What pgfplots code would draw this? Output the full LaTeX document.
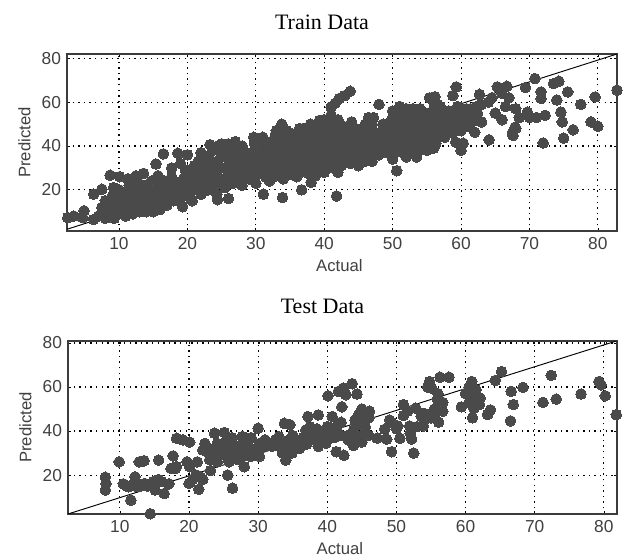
\documentclass[border=0pt]{standalone}
\usepackage{pgfplots}
\pgfplotsset{compat=1.18}
\usepackage{fontspec}
\setmainfont{Liberation Sans}
\newfontfamily\titlefont{Liberation Serif}
\definecolor{dot}{HTML}{4A4A4A}
\definecolor{frame}{HTML}{3C3C3C}
\pgfplotsset{
  panel/.style={
    scale only axis, clip mode=individual,
    axis line style={frame,line width=1.1pt},
    xtick={10,20,...,80}, ytick={20,40,60,80},
    tick style={black,line width=.5pt}, tick align=inside, major tick length=2.5pt,
    tick pos=both, ticklabel pos=left,
    xmajorgrids, ymajorgrids,
    major grid style={black,line width=.8pt,dash pattern=on 1pt off 3.2pt},
    /pgf/number format/assume math mode=true,
    tick label style={font=\fontsize{13}{15}\selectfont,text=black!75},
    label style={font=\fontsize{12.5}{14}\selectfont,text=black!75},
    xticklabel style={yshift=-1pt},
    yticklabel style={xshift=-1pt},
    xlabel={Actual}, ylabel={Predicted},
    ylabel style={yshift=1.5pt},
    title style={font=\titlefont\fontsize{16.5}{18}\selectfont,text=black},
  },
  dots/.style={only marks, mark=*, mark size=4pt, mark options={fill=dot,draw=dot,line width=0pt}},
}
\begin{document}
\begin{tikzpicture}[x=1pt,y=1pt]
\useasboundingbox (0,0) rectangle (468.75,417.75);
\begin{axis}[panel, at={(50.25pt,244.5pt)}, width=412.5pt, height=132.75pt,
  xmin=2.4, xmax=82.8, ymin=1.2, ymax=82,
  xlabel style={yshift=-1pt,xshift=-2pt},
  title={Train Data}, title style={yshift=9pt,xshift=-15pt}]
\addplot[black,line width=.7pt] coordinates {(2.4,2) (82.8,82)};
\addplot[dots] coordinates {
(41.8,17.2)(33.9,16.5)(31.1,18)(36.7,20)(26,16)(24.4,15.5)(50.6,28.7)(38.1,23.4)(38.7,26.4)(19.3,12.3)
(2.5,7.3)(3.4,8)(4.9,10.4)(4.7,7.3)(6.3,6.5)(6.3,18)(7.5,20.3)(9.2,21)(8.7,26.7)(10.1,26)(11.3,25)(12.5,26.4)(13.6,27.5)(15.4,31.8)(15.7,26.4)(16.5,36.4)(18.6,36.7)(20,36)(17.7,30)
(23.3,40.6)(25,41)(27,42)(29.7,44)(32.9,45.6)(33.8,50)(36.4,48)(39.3,51.7)(41,57.8)(41.6,59.5)(42.2,61.7)(43,63)(43.8,65)(44,51)(47.2,53)(48,59)(51,58)(55.4,62)(56.2,62.5)(59.3,67)(58.8,63)
(62.7,63.6)(65.3,67)(66.7,67.3)(69.4,66.7)(70.8,70.8)(71.7,64.7)(71.7,61.7)(73.5,68.5)(74.3,69.6)(75.6,64.7)(74,61)(77.5,59)(79.6,62.4)(82.8,65.5)(79,51)(80,49)(76.4,47.4)(75,43.6)(72,41.4)(74.8,51)(74.6,55.5)(72.3,54)(71,53)(70,53)(69.7,55.5)(67.9,48.6)(67.6,44.8)(64.1,42.8)(62,46.3)(63,51)(60,38)(60.3,41.3)(59.2,41.8)
(64,60)(65,55)(66,52)(66.5,58)(67,62)(68,57)(68.5,53)(66,64)(64.5,62)(63,59)(61.5,56)(68,48)(67.5,46)
(7,8)(7.5,12)(8,7)(8,15)(8.5,10)(9,17)(9.3,7)(9.5,13)(10,9)(10,20)(10.3,16)(11,8)(11,12)(11.2,18)(11.5,22)(12,9)(12,15)(12.5,20)(12.7,24)(13,10)(13.2,13)(13.5,17)(13.7,22)(14,10)(14.3,14)(14.5,19)(14.7,24)(15,10)(15.3,13)(15.5,17)(15.7,21)(16,11)(16.3,15)(16.5,19)(16.7,24)(17,13)(17.2,17)(17.5,21)(17.7,26)(18,15)(18.2,19)(18.5,23)(19,16)(19.2,20)(19.4,25)(19.7,29)(20,18)(20.2,22)(20.4,26)(20.7,15)(21,20)(21.2,24)(21.4,29)(21.6,33)(22,18)(22.2,23)(22.4,27)(22.6,31)(22.8,35)(23,20)(23.2,24)(23.4,29)(23.6,33)(23.7,38)(24,22)(24.3,18)(24.5,26)(24.7,30)(24.9,35)(25,38)(25.5,21)(25.7,25)(25.9,29)(26.1,33)(26.3,38)(26.7,23)(26.9,27)(27.1,31)(27.3,36)(27.5,39)(28,24)(28.2,28)(28.4,33)(28.6,37)(29,25)(29.2,29)(29.4,33)(29.6,37)(29.8,41)(30,23)(30.3,27)(30.5,31)(30.7,35)(30.9,39)(31,42)(31.4,26)(31.6,30)(31.8,34)(32,38)(32.2,42)(32.6,26)(32.8,30)(33,35)(33.2,39)(33.4,43)(33.7,46)(33.8,27)(34,31)(34.2,35)(34.4,39)(34.6,43)(35,27)(35.2,32)(35.4,36)(35.6,40)(35.8,44)(36.2,28)(36.4,32)(36.6,36)(36.8,40)(37,44)(37.4,28)(37.6,32)(37.8,37)(38,41)(38.2,45)(38.4,49)(38.7,29)(38.9,33)(39.1,37)(39.3,41)(39.5,45)(39.7,48)(40,28)(40.2,33)(40.4,37)(40.6,41)(40.8,45)(41,49)(41,54)(41.3,30)(41.5,34)(41.7,38)(41.9,42)(42.1,46)(42.3,50)(42.5,31)(42.7,35)(42.9,39)(43.1,43)(43.3,47)(43.8,32)(44,36)(44.2,40)(44.4,44)(44.6,48)(45,33)(45.2,37)(45.4,41)(45.6,45)(46,33)(46.2,37)(46.4,42)(46.7,46)(47,50)(47.2,36)(47.4,40)(47.6,44)(48,36)(48.3,40)(48.5,44)(48.8,48)(49.2,37)(49.4,41)(49.6,45)(49.8,49)(50,53)(50.4,37)(50.6,41)(50.8,45)(51,49)(51.2,54)(51.6,37)(51.8,41)(52,45)(52.2,49)(52.4,53)(52.8,37)(53,41)(53.2,45)(53.4,49)(53.6,54)(54,38)(54.2,42)(54.4,46)(54.6,50)(54.8,55)(55.2,41)(55.4,45)(55.6,49)(55.8,53)(56,57)(56.3,41)(56.5,44)(56.7,48)(57,52)(57.2,56)(57.6,44)(57.8,48)(58,52)(58.2,56)(58.8,46)(59,50)(59.2,54)(59.5,58)(60,47)(60.2,51)(60.4,55)(61,49)(61.2,53)(61.4,57)(62,52)(62.3,58)
(8.6,12)(9.8,11)(10.6,14)(11.8,11)(12.4,17)(13.6,12)(14.6,12)(14.8,16)(15.8,13)(16.2,17)(16.6,21)(17.4,15)(18,18)(18.8,21)(19.4,18)(20,24)(20.6,20)(21.4,22)(21.8,26)(22.6,21)(23,26)(23.4,31)(24,28)(24.4,33)(25,24)(25.4,30)(25.8,36)(26.4,26)(26.8,30)(27,34)(27.6,26)(28,31)(28.4,35)(29,27)(29.4,31)(29.8,35)(30.2,29)(30.6,33)(31,37)(31.6,28)(32,32)(32.4,36)(32.8,40)(33.4,28)(33.6,33)(34,37)(34.4,41)(35,29)(35.2,34)(35.6,38)(35.8,42)(36.4,30)(36.6,34)(37,38)(37.2,42)(37.8,30)(38,35)(38.2,39)(38.6,43)(38.8,47)(39.2,31)(39.6,35)(39.8,39)(40,43)(40.2,47)(40.6,51)(40.8,31)(41,35)(41.2,39)(41.4,43)(41.6,47)(42,33)(42.2,37)(42.4,41)(42.6,45)(42.8,49)(43.4,34)(43.6,38)(43.8,42)(44,46)(44.6,35)(44.8,39)(45,43)(45.4,47)(45.8,35)(46,39)(46.2,44)(46.5,48)(47,38)(47.2,42)(47.4,46)(47.8,38)(48,42)(48.2,46)(48.6,50)(49,39)(49.2,43)(49.4,47)(49.6,51)(50,39)(50.2,43)(50.4,47)(50.6,51)(50.8,55)(51.2,39)(51.4,43)(51.6,47)(51.8,51)(52,55)(52.4,39)(52.6,43)(52.8,47)(53,51)(53.2,55)(53.6,40)(53.8,44)(54,48)(54.2,52)(54.8,42)(55,46)(55.2,51)(55.4,55)(55.8,43)(56,47)(56.2,51)(56.4,55)(56.6,59)(57,46)(57.4,50)(57.6,54)(58.4,48)(58.6,52)(58.8,56)(59.6,49)(59.8,53)(60.4,52)(60.8,57)(61.6,51)(62.4,55)
(28,40)(31,44)(33,47)(34.5,47)(35,46)(37,48)(38,50)(40,52)(42,52)(44,49)(46,50)(46.5,53)(50,56)(52,57)(53,57)(54,57)(56,60)(57,58)(28,22)(32,24)(34,25)(36,26)(38,27)(42,28)(45,31)(47,33)(50,34)(52,35)(53.5,35)(55,38)(56,39)(20,29)(21,31)(19,32)(22,37)(24.5,40)(26,41)
};
\end{axis}
\begin{axis}[panel, at={(51pt,32.25pt)}, width=411.75pt, height=129.75pt,
  xmin=2.5, xmax=81.9, ymin=2.3, ymax=80.9,
  xlabel style={inner sep=0pt,yshift=-4.3pt,xshift=-2pt},
  title={Test Data}, title style={yshift=11pt,xshift=-15pt}]
\addplot[black,line width=.7pt] coordinates {(2.5,2.3) (81.9,81)};
\addplot[dots] coordinates {
(14.4,2.4)(11.6,8.6)(7.9,13.2)(8,16.2)(7.9,19)(9.9,26)(10.5,16)(11.3,14.7)(12.2,19.2)(12.5,14.7)(12.8,26)(13.5,26.5)(13.6,16.2)(14.8,17)(15.1,13.2)(15.6,18)(15.6,26.8)(16.4,11.6)(17.1,16)(17.7,28.7)(17.4,23)(18.2,36.7)(19.1,36)(20.1,35)(18.2,23.8)(19.7,26)(20.1,23.8)(21.2,26)(20,16.2)(21.4,13.5)(21.7,19)(23.1,22)(25.6,20)(26.3,14)
(22.3,34.4)(22,31.4)(22.8,30)(23.7,39)(25.1,39.3)(25.4,36)(24.1,34.4)(24.9,33)(24.3,30)(25.5,28.5)(24.1,26)(25.8,26)(26.7,30)(27.7,37.5)(27.7,34.4)(27.7,31.4)(28,23.8)(28.9,28.5)(30,41.3)(30.2,34.4)(30.2,28.5)(29.4,31.4)(31.4,34.4)(32.5,36)(33.8,43.5)(34.6,42.8)(33,37.5)(34,26.8)(34.9,30)(34,34.4)(35.6,33)(37.2,46.6)(38.7,47.3)(40.7,46.6)(36.9,40.5)(38.1,37.5)(38.7,33)(39.8,34.4)(41.3,41.3)(40.4,37.5)(42.1,51)(40.1,56)(41.6,58)(42.3,59.5)(43.6,61.5)(42.7,56.5)(44.3,56.8)(41.3,30.6)(42.4,29)(43.8,33.4)(44.6,35.7)(44.9,44.8)(46.1,49)(44.6,47.8)(43.8,40.5)(42.6,37.5)(47.2,36.8)(48.3,40.8)(48.6,36.3)(49.3,30.6)(52.5,30)(52.2,36.4)(50.5,36.7)(49.3,44)(51,52)(52.8,50.4)(51.6,49)(50.2,42.3)(51.9,42.3)(53.9,42.3)(53.6,46.8)(54.8,62.5)(55.1,59.5)(56.3,64.5)(57.6,64.5)(55.9,54.5)(56.7,53)(56.1,44)(56.7,49)(59.4,51)(60,57)(60.9,62.5)(61.5,58.8)(62.1,55)(61.2,50.3)(61,46)(63.2,47.5)(63.6,49.6)(64.3,63)(65.2,67)(66.6,58)(68.3,59.8)(66.9,52)(66.5,44.6)(71.2,53)(72.4,65.3)(73.1,54.5)(76.7,56.8)(79.3,62.5)(79.6,61)(80.2,56)(81.8,47.4)
(23,27)(23.5,32)(26.2,37)(26,33)(27,27)(28.5,34)(29,37)(30.5,33)(31,36)(32,33)(33,34)(33.5,30)(34.5,36)(35,38)(35.5,35)(36,32)(36.5,37)(37,34)(37.5,42)(38,36)(38.5,41)(39,39)(39.5,36)(40,42)(40.5,39)(41,37)(41.5,43)(42,44)(43,36)(44,38)(45,38)(45.5,42)(44.5,43)(45,50)(46,46)(53,42)(54,45)(55,46)(55.5,50)(55.5,47)(60.5,60)(61,55)(62,52)(60.5,53)(54.5,60)(56,57)(52,39)(50,41)(49,45)(51,47)(16,17)(12,16)(14,15)(11,15)(13,15)(18,23)(20.5,18)(21,20)(22,18)
(25,30)(26,29)(27,33)(28,29)(29,32)(30,32)(31,33)(33,33)(34,31)(35,33)(37,38)(38,39)(39,37)(40,39)(41,39)(42,38)(43,38)(44,36)(45,35)(46,38)(44,45)(45,46)(54,48)(55,48)
};
\end{axis}
\end{tikzpicture}
\end{document}
